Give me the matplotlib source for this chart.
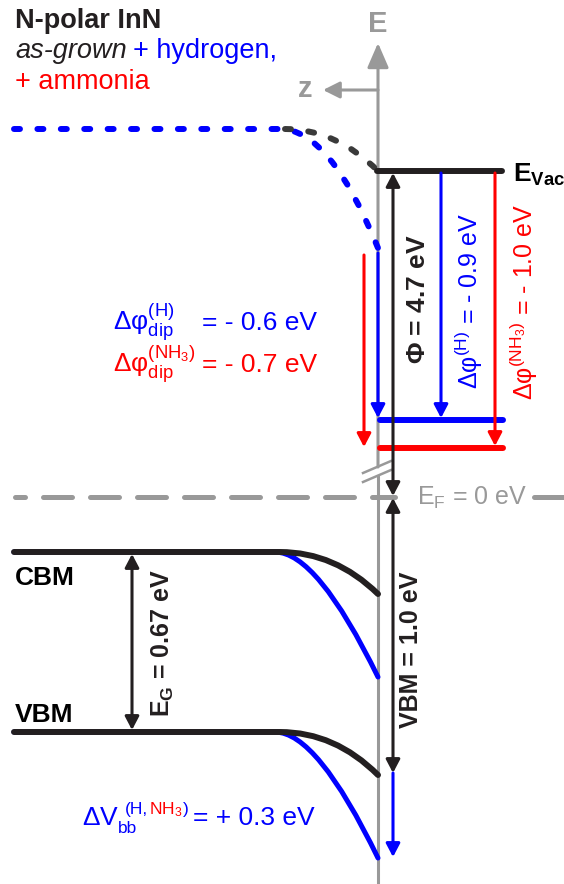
import matplotlib
matplotlib.use("Agg")
import matplotlib.pyplot as plt
from matplotlib.path import Path
from matplotlib.patches import PathPatch

plt.rcParams['font.family'] = ['Liberation Sans', 'DejaVu Sans']
plt.rcParams['mathtext.fontset'] = 'custom'
plt.rcParams['mathtext.rm'] = 'Liberation Sans'
plt.rcParams['mathtext.it'] = 'Liberation Sans:italic'
plt.rcParams['mathtext.bf'] = 'Liberation Sans:bold'
plt.rcParams['mathtext.default'] = 'regular'

BLUE = '#0000ff'
RED = '#ff0000'
BLACK = '#231f20'
GRAY = '#999999'

# ── Schematic geometry (pixel-like units, y grows downward) ────────────────
X_LEFT = 14           # bulk side of the band lines
X_SURF = 378          # surface (E axis)
X_LEVEL_END = 502     # right end of the vacuum-side levels
X_EF_RIGHT = 534      # E_F dashes resume after the label

# bulk positions of the bands
Y_VAC_BULK = 129
Y_EF = 497
Y_CBM_BULK = 552
Y_VBM_BULK = 732

# band bending: [as-grown, hydrogen] -> start of bending, bezier ctrl x, surface y
vac_bend_start = [285, 280]
vac_ctrl_x = [336, 330]
vac_surface = [171, 248]

cbm_bend_start = [280, 275]
cbm_ctrl_x = [335, 317]
cbm_surface = [594, 677]

vbm_bend_start = [280, 275]
vbm_ctrl_x = [335, 317]
vbm_surface = [775, 858]

# work-function side levels at the surface
y_level_as_grown = 171
y_level_h = 420
y_level_nh3 = 448

fig = plt.figure(figsize=(5.64, 8.84), dpi=100)
ax = fig.add_axes([0, 0, 1, 1])
ax.set_xlim(0, 564)
ax.set_ylim(884, 0)
ax.axis('off')


def band_path(y_bulk, x_start, ctrl_x, y_surf, with_flat=True):
    verts = []
    codes = []
    if with_flat:
        verts += [(X_LEFT, y_bulk), (x_start, y_bulk)]
        codes += [Path.MOVETO, Path.LINETO]
    else:
        verts += [(x_start, y_bulk)]
        codes += [Path.MOVETO]
    verts += [(ctrl_x, y_bulk), (X_SURF, y_surf)]
    codes += [Path.CURVE3, Path.CURVE3]
    return Path(verts, codes)


def arrow(tail, tip, color, style='-|>', hl=0.8, hw=0.42, lw=2.2, z=4):
    ax.annotate('', xy=tip, xytext=tail,
                arrowprops=dict(arrowstyle=f'{style},head_length={hl},head_width={hw}',
                                color=color, lw=lw, shrinkA=0, shrinkB=0,
                                mutation_scale=10),
                zorder=z)


# ── E axis with break ──────────────────────────────────────────────────────
arrow((X_SURF, 467), (X_SURF, 43), GRAY, hl=1.5, hw=0.65, lw=2.2, z=1)
ax.plot([X_SURF, X_SURF], [476, 884], color=GRAY, lw=2.2, zorder=1)
arrow((X_SURF, 90), (323, 90), GRAY, hl=1.0, hw=0.5, lw=2.2, z=1)
ax.plot([363, 391], [473, 461], color=GRAY, lw=1.8, zorder=1)
ax.plot([363, 391], [482, 470], color=GRAY, lw=1.8, zorder=1)
ax.text(X_SURF, 32, 'E', color=GRAY, fontsize=21, fontweight='bold',
        ha='center', va='baseline')
ax.text(305, 97, 'z', color=GRAY, fontsize=21, fontweight='bold',
        ha='center', va='baseline')

# ── Fermi level ────────────────────────────────────────────────────────────
ax.plot([X_LEFT + 0.5, 395], [Y_EF, Y_EF], color=GRAY, lw=3.6,
        linestyle=(3.8, (5.8, 3.6)), dash_capstyle='round', zorder=2)
ax.plot([X_EF_RIGHT, 600], [Y_EF, Y_EF], color=GRAY, lw=3.6,
        dash_capstyle='round', solid_capstyle='round', zorder=2)
ax.text(417, 505, r'E$_F$ = 0 eV', color=GRAY, fontsize=18, ha='left', va='baseline')

# ── Vacuum level (dashed) ──────────────────────────────────────────────────
dash = (0, (1.0, 2.92))
ax.add_patch(PathPatch(band_path(Y_VAC_BULK, vac_bend_start[1], vac_ctrl_x[1], vac_surface[1]),
                       fill=False, edgecolor=BLUE, lw=4.3, linestyle=dash,
                       capstyle='round', zorder=3))
ax.add_patch(PathPatch(band_path(Y_VAC_BULK, vac_bend_start[0], vac_ctrl_x[0], vac_surface[0],
                                 with_flat=False),
                       fill=False, edgecolor='#3a3a3a', lw=4.3, linestyle=dash,
                       capstyle='round', zorder=3))

# ── Conduction / valence band (solid) ──────────────────────────────────────
for y_bulk, starts, ctrls, surfs in [(Y_CBM_BULK, cbm_bend_start, cbm_ctrl_x, cbm_surface),
                                     (Y_VBM_BULK, vbm_bend_start, vbm_ctrl_x, vbm_surface)]:
    ax.add_patch(PathPatch(band_path(y_bulk, starts[1], ctrls[1], surfs[1]),
                           fill=False, edgecolor=BLUE, lw=3.6, capstyle='round', zorder=3))
    ax.add_patch(PathPatch(band_path(y_bulk, starts[0], ctrls[0], surfs[0]),
                           fill=False, edgecolor=BLACK, lw=4.3, capstyle='round', zorder=3))

# ── Surface-side levels ────────────────────────────────────────────────────
ax.plot([X_SURF - 1, X_LEVEL_END], [y_level_as_grown] * 2, color=BLACK, lw=4.3,
        solid_capstyle='round', zorder=3)
ax.plot([X_SURF + 2, X_LEVEL_END + 1], [y_level_h] * 2, color=BLUE, lw=4.3,
        solid_capstyle='round', zorder=3)
ax.plot([X_SURF + 2, X_LEVEL_END + 1], [y_level_nh3] * 2, color=RED, lw=4.3,
        solid_capstyle='round', zorder=3)

# ── Arrows ─────────────────────────────────────────────────────────────────
arrow((393, y_level_as_grown + 2), (393, Y_EF - 1), BLACK, style='<|-|>')
arrow((393, Y_EF + 1), (393, vbm_surface[0] - 2), BLACK, style='<|-|>')
arrow((393, vbm_surface[0] - 2), (393, vbm_surface[1] - 1), BLUE)
arrow((441, y_level_as_grown + 2), (441, y_level_h - 2), BLUE)
arrow((495, y_level_as_grown + 2), (495, y_level_nh3 - 2), RED)
arrow((378, 253), (378, y_level_h - 2), BLUE)
arrow((364, 255), (364, y_level_nh3 - 1), RED)
arrow((132, Y_CBM_BULK + 2), (132, Y_VBM_BULK - 2), BLACK, style='<|-|>')

# ── Labels ─────────────────────────────────────────────────────────────────
ax.text(513, 182, r'E$_{Vac}$', color='black', fontsize=19, fontweight='bold',
        ha='left', va='baseline')
ax.text(418, 299, r'$\Phi$ = 4.7 eV', color=BLACK, fontsize=19, fontweight='bold',
        rotation=90, ha='center', va='center')
ax.text(469, 301, r'$\Delta\varphi^{(\mathrm{H})}$ = - 0.9 eV', color=BLUE, fontsize=18,
        rotation=90, ha='center', va='center')
ax.text(524, 302, r'$\Delta\varphi^{(\mathrm{NH_3})}$ = - 1.0 eV', color=RED, fontsize=18,
        rotation=90, ha='center', va='center')

ax.text(113, 330, r'$\Delta\varphi^{(\mathrm{H})}_{\mathrm{dip}}$', color=BLUE, fontsize=19,
        ha='left', va='baseline')
ax.text(202, 330, '= - 0.6 eV', color=BLUE, fontsize=19, ha='left', va='baseline')
ax.text(113, 372, r'$\Delta\varphi^{(\mathrm{NH_3})}_{\mathrm{dip}}$', color=RED, fontsize=19,
        ha='left', va='baseline')
ax.text(202, 372, '= - 0.7 eV', color=RED, fontsize=19, ha='left', va='baseline')

ax.text(15, 585, 'CBM', color='black', fontsize=19, fontweight='bold', ha='left', va='baseline')
ax.text(15, 722, 'VBM', color='black', fontsize=19, fontweight='bold', ha='left', va='baseline')
ax.text(163, 643, r'E$_G$ = 0.67 eV', color=BLACK, fontsize=18, fontweight='bold',
        rotation=90, ha='center', va='center')
ax.text(411, 650, 'VBM = 1.0 eV', color=BLACK, fontsize=18, fontweight='bold',
        rotation=90, ha='center', va='center')

# multi-colour pieces are laid out one after another
fig.canvas.draw()
renderer = fig.canvas.get_renderer()
inv = ax.transData.inverted()


def chain_text(x, y, pieces, size, gap=0.0):
    for s, color, style in pieces:
        t = ax.text(x, y, s, color=color, fontsize=size, style=style,
                    ha='left', va='baseline')
        bb = t.get_window_extent(renderer=renderer)
        x = inv.transform((bb.x1, bb.y0))[0] + gap


ax.text(82, 825, r'$\Delta$V', color=BLUE, fontsize=19, ha='left', va='baseline')
ax.text(118, 833, 'bb', color=BLUE, fontsize=12.5, ha='left', va='baseline')
chain_text(125, 814, [('(H,', BLUE, 'normal')], 12.5)
chain_text(149, 814, [(r'NH$_3$', RED, 'normal'), (')', BLUE, 'normal')], 12.5)
ax.text(193, 825, '= + 0.3 eV', color=BLUE, fontsize=19, ha='left', va='baseline')

# ── Title ──────────────────────────────────────────────────────────────────
ax.text(15, 28, 'N-polar InN', color=BLACK, fontsize=19.5, fontweight='bold',
        ha='left', va='baseline')
chain_text(15, 58, [('as-grown', BLACK, 'italic'), ('+ hydrogen,', BLUE, 'normal')], 19.5, gap=6)
ax.text(15, 89, '+ ammonia', color=RED, fontsize=19.5, ha='left', va='baseline')

fig.savefig('out.png', dpi=100)
